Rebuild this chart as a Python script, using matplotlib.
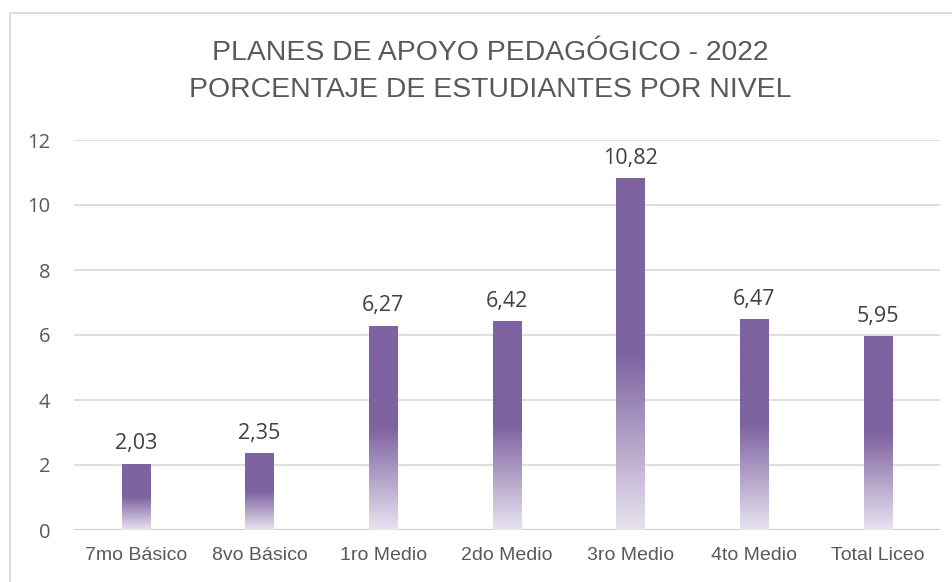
import numpy as np
import matplotlib.pyplot as plt
from matplotlib.colors import LinearSegmentedColormap
from matplotlib.patches import Rectangle

# Data
niveles = ['7mo Básico', '8vo Básico', '1ro Medio', '2do Medio', '3ro Medio', '4to Medio', 'Total Liceo']
porcentajes = [2.03, 2.35, 6.27, 6.42, 10.82, 6.47, 5.95]
etiquetas = ['2,03', '2,35', '6,27', '6,42', '10,82', '6,47', '5,95']
yticks = [0, 2, 4, 6, 8, 10, 12]

purple = '#7F63A1'
light = '#E8E3F0'
text_gray = '#595959'

fig = plt.figure(figsize=(9.52, 5.82), dpi=100)
ax = fig.add_axes([74 / 952, 1 - 530 / 582, (940 - 74) / 952, (530 - 140) / 582])

# figure border
fig.patches.append(Rectangle((10 / 952, -0.1), 1.2, 1 - 13 / 582 + 0.1, transform=fig.transFigure,
                             fill=False, edgecolor='#D9D9D9', linewidth=1.2))

x = np.arange(len(niveles))
bars = ax.bar(x, porcentajes, width=0.23, color='none', zorder=3)

# vertical gradient: light at bottom, solid from half height up
cmap = LinearSegmentedColormap.from_list('grad', [(0, light), (0.5, purple), (1, purple)])
grad = np.linspace(0, 1, 256).reshape(-1, 1)
for b in bars:
    x0, w, h = b.get_x(), b.get_width(), b.get_height()
    ax.imshow(grad, cmap=cmap, aspect='auto', origin='lower',
              extent=[x0, x0 + w, 0, h], zorder=3)

for xi, v, lab in zip(x, porcentajes, etiquetas):
    ax.text(xi, v + 0.3, lab, ha='center', va='bottom', fontsize=15.5,
            color='#404040', family=['Open Sans', 'DejaVu Sans'])

ax.set_xlim(-0.5, len(niveles) - 0.5)
ax.set_ylim(0, 12)
ax.set_yticks(yticks)
ax.set_yticklabels([str(t) for t in yticks], fontsize=14.5, color=text_gray,
                   family=['Open Sans', 'DejaVu Sans'])
ax.set_xticks(x)
ax.set_xticklabels(niveles, fontsize=14, color=text_gray,
                   family=['Liberation Sans Narrow', 'Liberation Sans', 'DejaVu Sans'])
ax.tick_params(length=0, pad=12)
ax.tick_params(axis='y', pad=17)
ax.grid(axis='y', color='#D9D9D9', linewidth=1.2, zorder=0)
ax.set_axisbelow(True)
for s in ax.spines.values():
    s.set_visible(False)
ax.axhline(0, color='#D0D0D0', linewidth=1.5, zorder=2)

fig.text(490 / 952, 1 - 53 / 582, 'PLANES DE APOYO PEDAGÓGICO - 2022', ha='center', va='center',
         fontsize=20.4, color=text_gray, family=['Liberation Sans', 'DejaVu Sans'])
fig.text(490 / 952, 1 - 90 / 582, 'PORCENTAJE DE ESTUDIANTES POR NIVEL', ha='center', va='center',
         fontsize=20.4, color=text_gray, family=['Liberation Sans', 'DejaVu Sans'])

fig.savefig('out.png', dpi=100)
